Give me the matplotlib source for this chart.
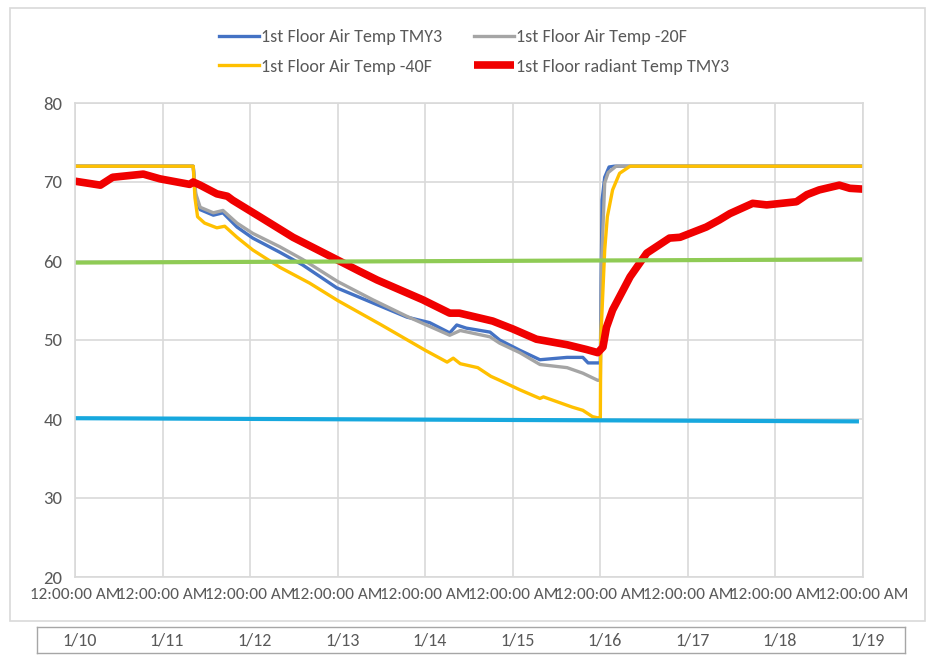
import matplotlib
matplotlib.use("Agg")
import matplotlib.pyplot as plt
from matplotlib import font_manager
from matplotlib.patches import Rectangle

# pick a narrow, Calibri-like font if one is around
installed = {f.name for f in font_manager.fontManager.ttflist}
font = "DejaVu Sans"
for name in ["Carlito", "Liberation Sans Narrow", "Open Sans", "Liberation Sans"]:
    if name in installed:
        font = name
        break
plt.rcParams["font.family"] = [font, "DejaVu Sans"]

# days since 1/10 12:00 AM
tmy3_days = [0, 1.35, 1.38, 1.43, 1.58, 1.69, 1.85, 2.03, 2.34, 2.60, 2.99, 3.40, 3.79, 4.05,
             4.28, 4.36, 4.47, 4.74, 4.85, 5.08, 5.31, 5.62, 5.80, 5.86, 5.97, 6.00, 6.01, 6.02,
             6.05, 6.10, 6.16, 9.0]
tmy3_vals = [72, 72, 68.0, 66.5, 65.8, 66.1, 64.3, 62.9, 61.1, 59.5, 56.6, 54.7, 52.9, 52.2,
             50.9, 51.9, 51.5, 51.0, 50.0, 48.7, 47.5, 47.8, 47.8, 47.1, 47.1, 47.1, 58.0, 67.7,
             70.6, 71.9, 72, 72]

m20_days = [0, 1.35, 1.38, 1.43, 1.58, 1.69, 1.85, 2.03, 2.34, 2.60, 3.0, 3.40, 3.79, 4.28,
            4.40, 4.74, 4.85, 5.08, 5.31, 5.62, 5.80, 5.97, 6.00, 6.015, 6.05, 6.09, 6.18, 9.0]
m20_vals = [72, 72, 68.5, 66.8, 66.1, 66.4, 64.8, 63.5, 61.8, 60.2, 57.4, 55.1, 53.0, 50.6,
            51.2, 50.4, 49.6, 48.4, 46.9, 46.5, 45.8, 44.9, 44.9, 60.0, 69.9, 71.2, 72, 72]

m40_days = [0, 1.35, 1.37, 1.40, 1.48, 1.62, 1.71, 1.85, 2.03, 2.34, 2.68, 3.0, 3.5, 4.0,
            4.25, 4.32, 4.40, 4.60, 4.75, 4.85, 5.08, 5.31, 5.35, 5.68, 5.80, 5.91, 5.99, 6.0,
            6.005, 6.05, 6.08, 6.14, 6.22, 6.34, 9.0]
m40_vals = [72, 72, 68.0, 65.6, 64.8, 64.2, 64.4, 63.0, 61.4, 59.2, 57.2, 55.0, 51.9, 48.7,
            47.2, 47.7, 47.0, 46.5, 45.4, 44.9, 43.7, 42.6, 42.8, 41.5, 41.1, 40.3, 40.1, 40.1,
            50.0, 61.4, 65.6, 69.0, 71.1, 72, 72]

rad_days = [0, 0.29, 0.43, 0.78, 0.97, 1.31, 1.35, 1.43, 1.62, 1.74, 1.80, 2.11, 2.49, 2.88,
            3.25, 3.45, 3.97, 4.28, 4.39, 4.77, 5.0, 5.27, 5.62, 5.84, 5.97, 6.03, 6.07, 6.14,
            6.34, 6.53, 6.79, 6.91, 7.21, 7.36, 7.48, 7.74, 7.90, 8.24, 8.36, 8.50, 8.73, 8.85, 9.0]
rad_vals = [70.1, 69.6, 70.6, 71.0, 70.4, 69.7, 70.0, 69.6, 68.5, 68.2, 67.7, 65.6, 63.0, 60.8,
            58.7, 57.6, 55.1, 53.4, 53.4, 52.4, 51.4, 50.1, 49.4, 48.8, 48.4, 49.1, 51.6, 53.8,
            58.0, 61.0, 62.9, 63.0, 64.3, 65.2, 66.0, 67.3, 67.1, 67.5, 68.4, 69.0, 69.6, 69.2, 69.1]

green_days = [0, 9.0]
green_vals = [59.8, 60.2]
cyan_days = [0, 8.93]
cyan_vals = [40.1, 39.7]

tick_days = list(range(10))
time_labels = ["12:00:00 AM"] * 10
date_labels = ["1/10", "1/11", "1/12", "1/13", "1/14", "1/15", "1/16", "1/17", "1/18", "1/19"]

W, H = 930, 666
fig = plt.figure(figsize=(W / 100, H / 100), dpi=100)

# outer chart frame
fig.patches.append(Rectangle((10 / W, 1 - 621 / H), 915 / W, 613 / H, transform=fig.transFigure,
                             fill=False, edgecolor="#D9D9D9", lw=1.2))

ax = fig.add_axes([75 / W, 1 - 577 / H, 788 / W, 474 / H])
l1, = ax.plot(tmy3_days, tmy3_vals, color="#4472C4", lw=2.4, label="1st Floor Air Temp TMY3")
l2, = ax.plot(m20_days, m20_vals, color="#A5A5A5", lw=2.4, label="1st Floor Air Temp -20F")
l3, = ax.plot(m40_days, m40_vals, color="#FFC000", lw=2.4, label="1st Floor Air Temp -40F")
l4, = ax.plot(rad_days, rad_vals, color="#F00000", lw=5.5, label="1st Floor radiant Temp TMY3",
              solid_capstyle="butt")
ax.plot(green_days, green_vals, color="#8FCB55", lw=3)
ax.plot(cyan_days, cyan_vals, color="#17A8DE", lw=3)

ax.set_xlim(0, 9)
ax.set_ylim(20, 80)
ax.set_yticks([20, 30, 40, 50, 60, 70, 80])
ax.set_xticks(tick_days)
ax.set_xticklabels(time_labels)
ax.grid(True, color="#D9D9D9", lw=1.2)
ax.set_axisbelow(True)
for s in ax.spines.values():
    s.set_color("#D9D9D9")
    s.set_linewidth(1.2)
ax.tick_params(length=0, colors="#595959", labelsize=13.5)
ax.tick_params(axis="x", labelsize=12.3, pad=8)
ax.tick_params(axis="y", pad=9)

fig.legend([l1, l3, l2, l4], [l1.get_label(), l3.get_label(), l2.get_label(), l4.get_label()],
           ncol=2, loc="upper left", bbox_to_anchor=(210 / W, 1 - 20 / H), frameon=False,
           fontsize=13, handlelength=2.2, handletextpad=0.1, columnspacing=1.8,
           labelspacing=0.75, borderpad=0, labelcolor="#595959")

# date strip under the chart
x0 = (37 - 75) / 87.6
x1 = (905 - 75) / 87.6
bx = fig.add_axes([37 / W, 1 - 653 / H, 868 / W, 26 / H])
bx.set_xlim(x0, x1)
bx.set_ylim(0, 1)
bx.set_xticks([])
bx.set_yticks([])
for s in bx.spines.values():
    s.set_color("#A6A6A6")
    s.set_linewidth(1)
for d, lab in zip(tick_days, date_labels):
    bx.text(d + 0.05, 0.5, lab, ha="center", va="center", fontsize=13, color="#595959")

fig.savefig("out.png", dpi=100)
